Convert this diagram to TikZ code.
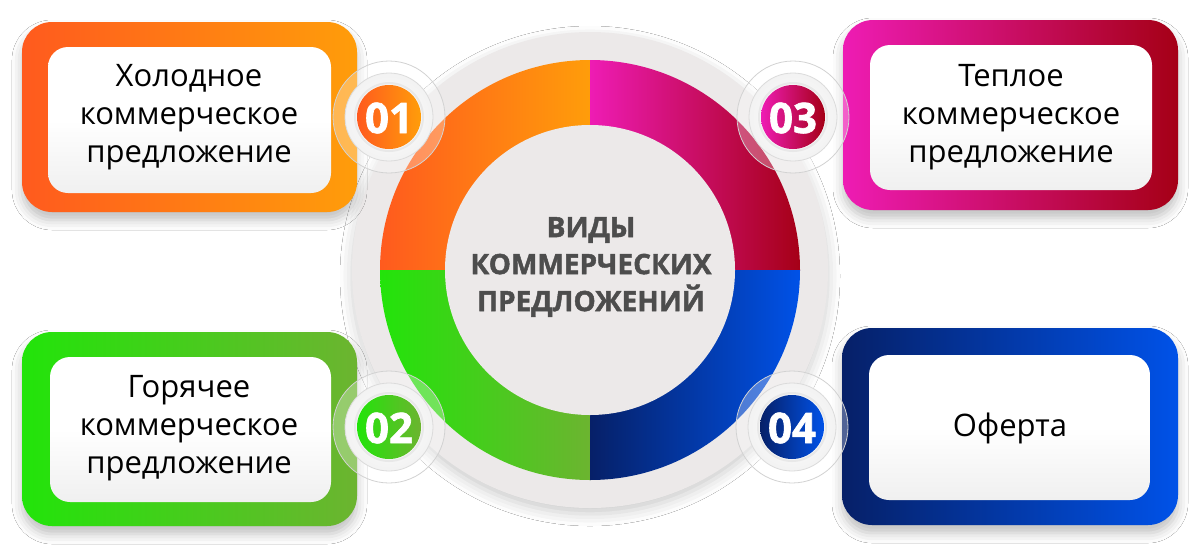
\documentclass[tikz,border=0pt]{standalone}
\usepackage{fontspec}
\setmainfont{Open Sans}
\newfontfamily\heavy{Open Sans}[BoldFeatures={FakeBold=1.6}]
\usetikzlibrary{shadows.blur}
\definecolor{orL}{HTML}{FF5A1E}
\definecolor{orR}{HTML}{FF9D0A}
\definecolor{mgL}{HTML}{EE1CB4}
\definecolor{mgR}{HTML}{A50016}
\definecolor{grL}{HTML}{22E40A}
\definecolor{grR}{HTML}{6CB430}
\definecolor{blL}{HTML}{062068}
\definecolor{blR}{HTML}{0052E8}
\definecolor{disk}{HTML}{ECE9E9}
\definecolor{ctext}{HTML}{4D4D4D}
\tikzset{
  outerbox/.style={rounded corners=30pt, blur shadow={shadow xshift=0pt, shadow yshift=-8pt, shadow blur radius=10pt, shadow opacity=25}},
  innerbox/.style={rounded corners=20pt, top color=white, bottom color=white!88!gray, middle color=white},
  boxtext/.style={font=\fontsize{31}{38}\selectfont, align=center, text=black},
  numtext/.style={font=\heavy\bfseries\fontsize{42}{42}\selectfont, text=white},
}
\newcommand{\badge}[4]{% center, left color, right color, label
  \fill[white, opacity=0.3] (#1) circle[radius=56];
  \draw[gray!35, line width=0.8pt] (#1) circle[radius=56];
  \shade[inner color=white, outer color=gray!10, draw=gray!28, line width=0.8pt] (#1) circle[radius=44];
  \draw[gray!18, line width=2pt] (#1) circle[radius=34];
  \shade[left color=#2, right color=#3] (#1) circle[radius=32];
}
\begin{document}
\begin{tikzpicture}[x=1pt, y=-1pt]
\useasboundingbox (0,0) rectangle (1200,550);
\fill[white] (0,0) rectangle (1200,550);
% central disk
\coordinate (c) at (590,270);
\fill[disk, blur shadow={shadow xshift=0pt, shadow yshift=-6pt, shadow blur radius=12pt, shadow opacity=20}] (c) circle[radius=238];
\begin{scope}
  \clip (c) circle[radius=210];
  \shade[left color=orL, right color=orR] (379,59) rectangle (590.5,270.5);
  \shade[left color=mgL, right color=mgR] (590,59) rectangle (801,270.5);
  \shade[left color=grL, right color=grR] (379,270) rectangle (590.5,481);
  \shade[left color=blL, right color=blR] (590,270) rectangle (801,481);
\end{scope}
\fill[disk] (c) circle[radius=145];
\node[font=\heavy\bfseries\fontsize{28}{37}\selectfont, text=ctext, align=center] (title) at (591,267) {ВИДЫ\\КОММЕРЧЕСКИХ\\ПРЕДЛОЖЕНИЙ};
% boxes
\shade[outerbox, left color=orL, right color=orR] (22,22) rectangle (357,212);
\shade[innerbox] (48,47) rectangle (331,193);
\node[boxtext] (t1) at (189,117) {Холодное\\коммерческое\\предложение};
\shade[outerbox, left color=mgL, right color=mgR] (843,20) rectangle (1178,210);
\shade[innerbox] (870,45) rectangle (1152,190);
\node[boxtext] (t3) at (1011,117) {Теплое\\коммерческое\\предложение};
\shade[outerbox, left color=grL, right color=grR] (22,332) rectangle (357,526);
\shade[innerbox] (50,357) rectangle (331,502);
\node[boxtext] (t2) at (189,428) {Горячее\\коммерческое\\предложение};
\shade[outerbox, left color=blL, right color=blR] (842,328) rectangle (1178,525);
\shade[innerbox] (869,355) rectangle (1150,500);
\node[boxtext] (t4) at (1010,428) {Оферта};
% badges
\badge{389,117}{orL}{orR}{01}
\node[numtext] (n1) at (389,118) {01};
\badge{793,117}{mgL}{mgR}{03}
\node[numtext] (n3) at (793,118) {03};
\badge{389,427}{grL}{grR}{02}
\node[numtext] (n2) at (389,428) {02};
\badge{792,427}{blL}{blR}{04}
\node[numtext] (n4) at (792,428) {04};
\end{tikzpicture}
\end{document}
